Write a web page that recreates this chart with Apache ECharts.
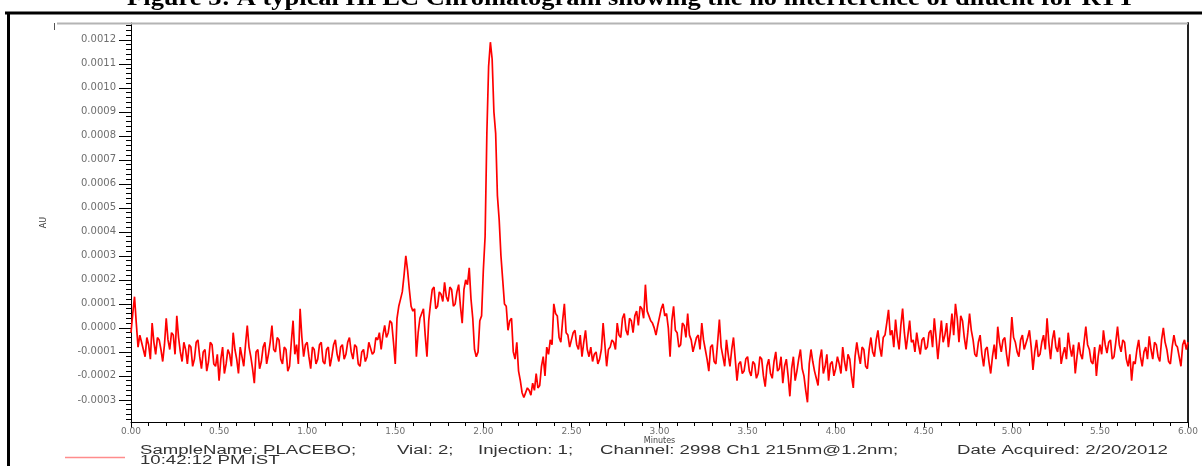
<!DOCTYPE html>
<html>
<head>
<meta charset="utf-8">
<title>HPLC Chromatogram - Placebo</title>
<script src="https://cdn.jsdelivr.net/npm/echarts@6.0.0/dist/echarts.min.js"></script>
<style>
  html, body { margin: 0; padding: 0; background: #ffffff; }
  #chart { width: 1202px; height: 466px; }
</style>
</head>
<body>
<div id="chart"></div>
<script>
// Detector trace sampled every 0.01 min from 0.00 to 6.00 min, in units of 0.0001 AU
const timeStepMin = 0.01;
const signal = [
  -0.2, 0.6, 1.3, 0.2, -0.8, -0.3, -0.6, -0.9, -1.2, -0.4, -0.7, -1.3, 0.2, -0.6, -1.1, -0.4, -0.5, -0.9, -1.4, -0.7,
  0.4, -0.5, -0.9, -0.2, -0.3, -1.1, 0.5, -0.4, -1.0, -1.4, -0.6, -0.9, -1.5, -0.7, -0.8, -1.6, -1.3, -0.6, -0.5, -1.2,
  -1.7, -1.0, -0.9, -1.8, -1.4, -0.6, -0.7, -1.5, -1.6, -1.1, -2.2, -1.3, -0.8, -1.9, -1.5, -0.9, -1.1, -1.6, -0.2, -0.9,
  -1.3, -1.9, -0.8, -1.2, -1.6, -0.7, 0.1, -0.8, -1.2, -1.7, -2.3, -1.0, -0.9, -1.7, -1.4, -0.8, -0.6, -1.5, -1.1, -0.6,
  0.1, -0.9, -1.0, -0.4, -0.5, -1.3, -1.5, -0.8, -0.9, -1.8, -1.6, -0.6, 0.3, -1.1, -0.7, -1.5, 0.8, -0.4, -1.2, -0.7,
  -0.6, -1.2, -1.7, -0.8, -0.9, -1.5, -1.3, -0.7, -0.6, -1.4, -1.5, -0.9, -0.8, -1.6, -1.2, -0.7, -0.5, -1.1, -1.4, -0.8,
  -0.7, -1.3, -1.1, -0.6, -0.4, -1.0, -1.3, -0.7, -0.8, -1.5, -1.6, -1.0, -0.9, -1.4, -1.2, -0.6, -0.6, -1.1, -1.0, -0.4,
  -0.5, -0.2, -0.9, -0.3, 0.1, -0.4, -0.2, 0.3, 0.2, -0.6, -1.5, 0.4, 0.9, 1.2, 1.5, 2.2, 3.0, 2.4, 1.6, 0.9,
  0.7, 0.8, -1.2, -0.2, 0.4, 0.6, 0.8, -0.3, -1.2, 0.3, 1.0, 1.6, 1.7, 0.8, 0.9, 1.5, 1.4, 1.1, 1.9, 1.3,
  1.1, 1.7, 1.6, 0.9, 1.0, 1.5, 1.8, 0.9, 0.2, 1.6, 2.0, 1.8, 2.5, 1.2, 0.4, -0.9, -1.2, -1.0, 0.3, 0.5,
  2.4, 3.8, 8.1, 10.9, 11.9, 11.2, 9.0, 8.1, 5.5, 4.5, 3.0, 2.0, 1.0, 0.9, -0.1, 0.3, 0.4, -1.0, -1.3, -0.6,
  -1.8, -2.2, -2.7, -2.9, -2.9, -2.5, -2.6, -2.8, -2.3, -2.6, -1.9, -2.5, -2.4, -1.6, -1.2, -2.0, -0.8, -1.1, -0.5, -0.7,
  1.0, 0.6, 0.5, -0.4, -0.6, 0.3, 1.0, -0.2, -0.3, -0.8, -0.5, -0.2, -0.1, -0.7, -0.9, -0.3, -1.2, -0.6, -0.1, -0.9,
  -1.2, -0.8, -1.4, -1.1, -1.0, -1.5, -1.3, -0.9, 0.2, -0.7, -1.6, -0.9, -0.8, -0.5, -0.6, -0.9, 0.2, -0.3, -0.4, 0.4,
  0.6, -0.1, -0.3, 0.4, 0.3, -0.2, 0.5, 0.7, 0.1, 0.9, 0.8, 0.4, 1.8, 0.7, 0.5, 0.3, 0.2, 0.0, -0.3, 0.1,
  0.1, 0.8, 1.0, 0.5, 0.6, 0.0, -1.2, 0.3, 0.9, -0.1, -0.2, -0.8, -0.7, 0.2, 0.1, -0.4, 0.6, -0.3, -0.5, -1.0,
  -1.0, -0.4, -0.3, -0.9, 0.2, -0.5, -0.9, -1.3, -1.8, -0.8, -0.7, -1.4, -1.5, -0.6, 0.35, -0.8, -1.2, -1.6, -0.5, -1.1,
  -1.6, -0.9, -0.4, -1.3, -2.2, -1.5, -1.4, -1.9, -1.8, -1.3, -1.2, -1.8, -2.0, -1.4, -1.5, -2.1, -1.9, -1.2, -1.3, -2.0,
  -2.45, -1.6, -1.3, -1.9, -2.1, -1.4, -1.0, -1.8, -1.7, -1.2, -2.3, -1.6, -1.3, -2.0, -2.85, -1.7, -1.2, -2.2, -1.8, -1.3,
  -0.9, -1.7, -2.0, -2.6, -3.1, -1.5, -0.9, -1.4, -1.8, -2.1, -2.4, -1.3, -0.9, -1.9, -1.6, -1.1, -2.2, -1.5, -1.4, -2.0,
  -1.7, -1.2, -1.5, -1.9, -0.8, -1.4, -1.8, -1.1, -1.3, -2.0, -2.5, -1.2, -0.6, -1.1, -1.5, -0.8, -0.9, -1.6, -1.7, -0.9,
  -0.4, -1.0, -1.2, -0.5, -0.1, -0.8, -1.2, -0.4, -0.3, 0.2, 0.75, -0.3, -0.1, -0.8, 0.35, -0.4, -0.9, 0.1, 0.8, -0.2,
  -0.9, -0.3, 0.3, -0.6, -0.5, -1.0, -0.2, -0.7, -1.1, -0.5, -0.4, -0.9, -0.8, -0.2, -0.1, -0.8, 0.4, -0.4, -1.3, -0.5,
  0.3, -0.6, -0.3, 0.2, -0.8, -0.2, 0.6, -0.3, 1.0, 0.4, -0.6, 0.5, 0.3, -0.4, -0.9, -0.2, 0.6, -0.1, -0.5, -1.1,
  -1.2, -0.6, -0.3, -1.1, -1.6, -0.9, -0.8, -1.4, -1.9, -1.2, -0.7, -1.3, 0.05, -0.6, -1.0, -0.5, -0.4, -1.1, -1.6, -0.8,
  0.45, -0.4, -0.6, -1.0, -1.2, -0.5, -0.3, -0.9, -0.9, -0.4, -0.1, -0.8, -1.75, -1.0, -0.5, -1.2, -1.1, -0.6, -0.3, -0.9,
  0.4, -0.6, -1.3, -0.5, -0.1, -0.8, -1.0, -0.4, -1.5, -1.1, -0.8, -1.3, -0.2, -0.8, -1.2, -0.7, -1.9, -1.2, -0.6, -1.1,
  -1.3, -0.6, 0.05, -0.7, -0.9, -1.4, -1.5, -0.8, -2.0, -1.2, -0.7, -1.1, -0.1, -0.7, -1.05, -0.6, -0.5, -1.3, -1.2, -0.6,
  0.05, -0.7, -1.0, -0.5, -0.6, -1.3, -1.6, -1.1, -2.2, -1.4, -1.5, -0.9, -0.5, -1.2, -1.6, -1.0, -0.8, -1.3, -0.35, -0.9,
  -1.3, -0.6, -0.7, -1.2, -1.4, -0.5, 0.0, -0.6, -0.9, -1.4, -1.5, -0.8, -0.3, -0.7, -0.8, -1.2, -1.6, -0.7, -0.5, -0.9,
  -0.6
];

// Labelled AU ticks on the vertical axis
const auTicks = [-0.0003, -0.0002, -0.0001, 0.0000, 0.0001, 0.0002, 0.0003,
                 0.0004, 0.0005, 0.0006, 0.0007, 0.0008, 0.0009, 0.0010, 0.0011, 0.0012];

// Caption and acquisition details printed under the plot
const titleText = 'Figure 3: A typical HPLC Chromatogram showing the no interference of diluent for RTT';
const sampleInfo = [
  { text: 'SampleName: PLACEBO;', x: 140 },
  { text: 'Vial: 2;', x: 397 },
  { text: 'Injection: 1;', x: 478 },
  { text: 'Channel: 2998 Ch1 215nm@1.2nm;', x: 600 },
  { text: 'Date Acquired: 2/20/2012', x: 957 }
];
const sampleInfoLine2 = '10:42:12 PM IST';

const AU_MIN = -0.000392;
const AU_MAX = 0.00127;
const AU_SCALE = 1e-4;

const points = signal.map((v, i) => [+(i * timeStepMin).toFixed(2), v * AU_SCALE]);

// Minor AU ticks every 0.00002 across the axis range
const minorAuTicks = [];
for (let k = Math.ceil(AU_MIN / 0.00002); k * 0.00002 <= AU_MAX; k++) {
  minorAuTicks.push(+(k * 0.00002).toFixed(6));
}

const GRID = { left: 131, right: 14, top: 23, bottom: 44 };
const labelFont = 'DejaVu Sans';
const infoFont = '"Liberation Sans", Arial, sans-serif';
const INFO_STRETCH = 1.55;

const chart = echarts.init(document.getElementById('chart'), null, { renderer: 'canvas' });

const graphics = [
  // caption, partly above the page edge
  {
    type: 'text', x: 631, y: -12, scaleX: 1.15,
    style: { text: titleText, font: 'bold 23px "Liberation Serif", "Times New Roman", serif',
             fill: '#000', align: 'center', verticalAlign: 'top' },
    z: 9
  },
  // outer page frame
  { type: 'line', shape: { x1: 5, y1: 13, x2: 1202, y2: 13 }, style: { stroke: '#000', lineWidth: 3 }, z: 10 },
  { type: 'line', shape: { x1: 8.5, y1: 12, x2: 8.5, y2: 466 }, style: { stroke: '#000', lineWidth: 3 }, z: 10 },
  // plot frame top edge
  { type: 'line', shape: { x1: 57, y1: 23.5, x2: 1188, y2: 23.5 }, style: { stroke: '#b4b4b4', lineWidth: 2 }, z: 10 },
  { type: 'line', shape: { x1: 54.5, y1: 23, x2: 54.5, y2: 30 }, style: { stroke: '#555', lineWidth: 1 }, z: 10 },
  // legend swatch
  { type: 'line', shape: { x1: 65, y1: 457.5, x2: 125, y2: 457.5 }, style: { stroke: '#ff8c8c', lineWidth: 1.5 }, z: 10 },
  {
    type: 'text', x: 140, y: 467, scaleX: INFO_STRETCH,
    style: { text: sampleInfoLine2, font: '12px ' + infoFont, fill: '#333', verticalAlign: 'bottom', align: 'left' },
    z: 10
  }
];
sampleInfo.forEach(s => {
  graphics.push({
    type: 'text', x: s.x, y: 457, scaleX: INFO_STRETCH,
    style: { text: s.text, font: '12px ' + infoFont, fill: '#333', verticalAlign: 'bottom', align: 'left' },
    z: 10
  });
});

chart.setOption({
  animation: false,
  backgroundColor: '#ffffff',
  grid: GRID,
  xAxis: {
    type: 'value',
    min: 0,
    max: 6,
    interval: 0.5,
    name: 'Minutes',
    nameLocation: 'middle',
    nameGap: 15,
    nameMoveOverlap: false,
    nameTextStyle: { fontFamily: labelFont, fontSize: 8, color: '#444' },
    axisLine: { show: true, onZero: false, lineStyle: { color: '#000', width: 1 } },
    axisTick: { show: true, inside: false, length: 6, lineStyle: { color: '#000' } },
    minorTick: { show: true, splitNumber: 5, length: 4, lineStyle: { color: '#000' } },
    axisLabel: { fontFamily: labelFont, fontSize: 9, color: '#6e6e6e', margin: 5, formatter: v => v.toFixed(2) },
    splitLine: { show: false },
    minorSplitLine: { show: false }
  },
  yAxis: [
    {
      type: 'value',
      min: AU_MIN,
      max: AU_MAX,
      name: 'AU',
      nameLocation: 'middle',
      nameGap: 83,
      nameMoveOverlap: false,
      nameRotate: 90,
      nameTextStyle: { fontFamily: labelFont, fontSize: 8, color: '#444' },
      axisLine: { show: true, lineStyle: { color: '#000', width: 1 } },
      axisTick: { show: true, length: 12, customValues: auTicks, lineStyle: { color: '#000' } },
      axisLabel: { fontFamily: labelFont, fontSize: 10, color: '#6e6e6e', margin: 15,
                   customValues: auTicks, formatter: v => v.toFixed(4) },
      splitLine: { show: false }
    },
    {
      type: 'value',
      min: AU_MIN,
      max: AU_MAX,
      position: 'left',
      axisLine: { show: false },
      axisTick: { show: true, length: 5, customValues: minorAuTicks, lineStyle: { color: '#000' } },
      axisLabel: { show: false, customValues: minorAuTicks },
      splitLine: { show: false }
    },
    {
      type: 'value',
      min: AU_MIN,
      max: AU_MAX,
      position: 'right',
      axisLine: { show: true, lineStyle: { color: '#222', width: 2 } },
      axisTick: { show: false },
      axisLabel: { show: false },
      splitLine: { show: false }
    }
  ],
  series: [{
    type: 'line',
    yAxisIndex: 0,
    data: points,
    showSymbol: false,
    symbol: 'none',
    lineStyle: { color: '#ff0000', width: 1.7 },
    clip: true
  }],
  graphic: graphics
});
</script>
</body>
</html>
